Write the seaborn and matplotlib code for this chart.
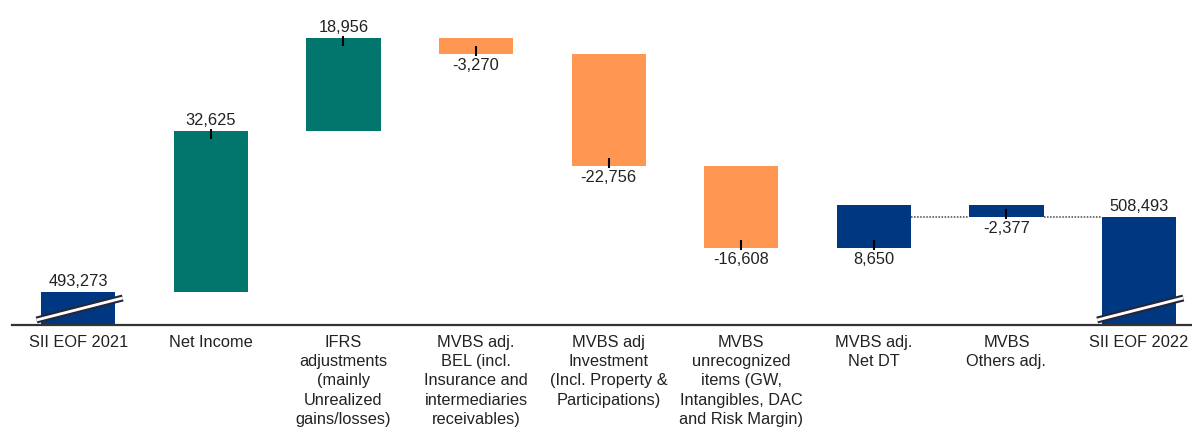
import matplotlib
matplotlib.use("Agg")
import matplotlib.pyplot as plt
import matplotlib.patheffects as pe
import seaborn as sns
import pandas as pd
import numpy as np

# ---------------- data ----------------
categories = [
    "SII EOF 2021",
    "Net Income",
    "IFRS\nadjustments\n(mainly\nUnrealized\ngains/losses)",
    "MVBS adj.\nBEL (incl.\nInsurance and\nintermediaries\nreceivables)",
    "MVBS adj\nInvestment\n(Incl. Property &\nParticipations)",
    "MVBS\nunrecognized\nitems (GW,\nIntangibles, DAC\nand Risk Margin)",
    "MVBS adj.\nNet DT",
    "MVBS\nOthers adj.",
    "SII EOF 2022",
]
start_value = 493273
deltas = [32625, 18956, -3270, -22756, -16608, 8650, -2377]
end_value = 508493
value_labels = ["493,273", "32,625", "18,956", "-3,270", "-22,756",
                "-16,608", "8,650", "-2,377", "508,493"]

# ---------------- styles ----------------
NAVY = "#003781"
TEAL = "#02766C"
ORANGE = "#FF9651"
bar_colors = [NAVY, TEAL, TEAL, ORANGE, ORANGE, ORANGE, NAVY, NAVY, NAVY]
label_below = [False, False, False, True, True, True, True, True, False]

# ---------------- waterfall geometry ----------------
running = start_value + np.concatenate([[0], np.cumsum(deltas)])
bottoms, heights = [0.0], [float(start_value)]
for i, d in enumerate(deltas):
    lo = min(running[i], running[i + 1])
    bottoms.append(float(lo))
    heights.append(float(abs(d)))
bottoms.append(0.0)
heights.append(float(end_value))
tops = [b + h for b, h in zip(bottoms, heights)]

df = pd.DataFrame({"category": categories, "height": heights})

sns.set_theme(style="white")
plt.rcParams["font.family"] = ["Liberation Sans", "DejaVu Sans"]

fig = plt.figure(figsize=(11.92, 4.30), dpi=100)
ax = fig.add_axes([12 / 1192, 105 / 430, 1180 / 1192, 325 / 430])

BAR_W = 0.56
sns.barplot(data=df, x="category", y="height", bottom=bottoms, width=BAR_W,
            color=NAVY, errorbar=None, linewidth=0, ax=ax)
for patch, c in zip(ax.patches, bar_colors):
    patch.set_facecolor(c)
    patch.set_edgecolor(c)

ymin, ymax = 486574, 552568
ax.set_ylim(ymin, ymax)
ax.set_xlim(-0.5, 8.4)
upp = (ymax - ymin) / 325.0  # data units per pixel

for side in ["left", "right", "top"]:
    ax.spines[side].set_visible(False)
ax.spines["bottom"].set_color("#333333")
ax.spines["bottom"].set_linewidth(1.6)
ax.set_yticks([])
ax.set_xlabel("")
ax.set_ylabel("")
ax.tick_params(axis="x", length=0, pad=7, labelsize=11.8, colors="#222222")
ax.set_xticks(range(len(categories)))
ax.set_xticklabels(categories, ha="center", multialignment="center",
                   linespacing=1.36, color="#222222")

# value labels and small marker ticks
for i, (lab, b, t) in enumerate(zip(value_labels, bottoms, tops)):
    is_delta = 0 < i < len(categories) - 1
    if label_below[i]:
        ax.annotate(lab, (i, b), xytext=(0, -4), textcoords="offset pixels",
                    ha="center", va="top", fontsize=11.8, color="#222222")
        if is_delta:
            ax.plot([i, i], [b - 2 * upp, b + 8 * upp], color="black", lw=1.5,
                    solid_capstyle="butt")
    else:
        ax.annotate(lab, (i, t), xytext=(0, 3), textcoords="offset pixels",
                    ha="center", va="bottom", fontsize=11.8, color="#222222")
        if is_delta:
            ax.plot([i, i], [t + 2 * upp, t - 8 * upp], color="black", lw=1.5,
                    solid_capstyle="butt")

# dotted connectors between the last adjustments
for i in [6, 7]:
    level = running[i + 1] if i < len(running) - 1 else end_value
    ax.plot([i + BAR_W / 2, i + 1 - BAR_W / 2], [level, level],
            color="#444444", lw=1.1, linestyle=(0, (1, 1)))

# axis-break marks on the total bars
for i in [0, len(categories) - 1]:
    ax.plot([i - 0.315, i + 0.335], [ymin + 5 * upp, ymin + 27 * upp],
            color="white", lw=2.0, solid_capstyle="butt", clip_on=False,
            path_effects=[pe.Stroke(linewidth=5, foreground="#26263a"), pe.Normal()])

fig.savefig("out.png", dpi=100)
